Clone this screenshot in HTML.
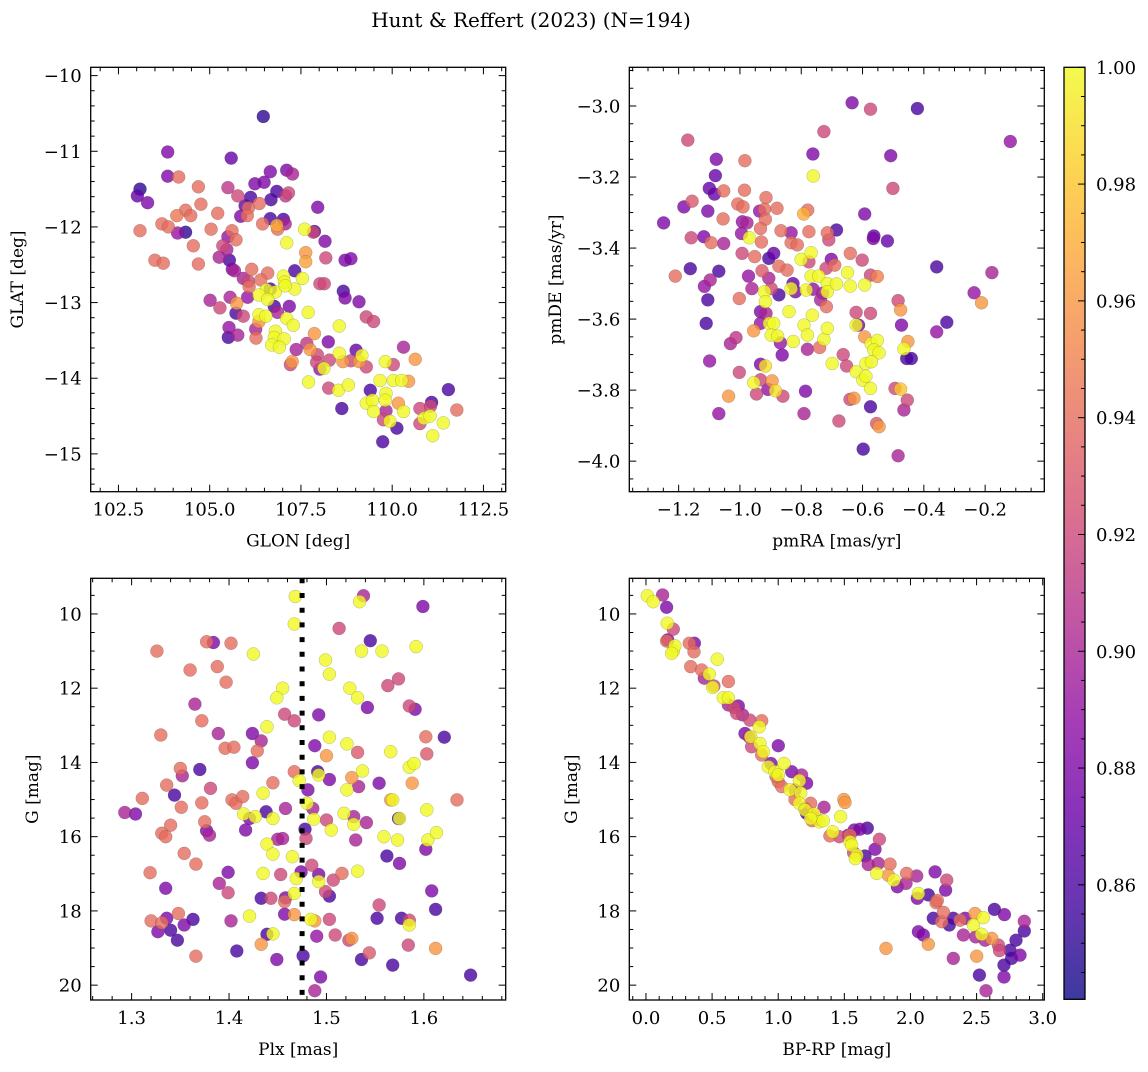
<!DOCTYPE html>
<html><head><meta charset="utf-8"><style>
html,body{margin:0;padding:0;background:#fff;}
svg text{font-family:"DejaVu Serif","Liberation Serif",serif;fill:#000;}
</style></head><body>
<svg id="fig" xmlns="http://www.w3.org/2000/svg" width="1148" height="1067" viewBox="0 0 1148 1067">
<rect width="1148" height="1067" fill="#fff"/>
<text x="531" y="27" font-size="20" text-anchor="middle">Hunt &amp; Reffert (2023) (N=194)</text>
</svg>
<script>
const probMin = 0.8404, probMax = 1.0;
const plxMedian = 1.475;

const p1Glon = [106.47,103.85,105.59,103.09,103.02,103.30,103.85,104.15,104.69,104.76,
103.09,103.69,103.87,104.10,104.34,104.48,104.12,104.34,105.22,105.04,
104.55,103.50,103.73,104.69,105.50,105.77,106.12,105.97,106.24,106.49,
106.66,107.11,107.27,106.84,106.68,107.08,107.16,106.36,106.06,105.85,
106.03,106.45,106.66,107.02,107.07,106.86,106.84,107.96,107.60,107.87,
107.84,108.16,107.11,105.61,105.72,105.50,105.36,105.47,105.26,105.54,
105.62,105.68,106.15,106.59,106.40,106.06,106.08,107.33,107.63,107.63,
107.02,107.05,107.54,107.33,106.66,106.55,106.80,106.35,106.59,106.04,
105.56,105.01,105.28,105.74,105.72,105.92,106.77,107.18,106.35,106.54,
106.86,107.11,107.29,107.70,106.35,105.53,105.51,105.77,106.26,106.27,
106.80,106.77,107.04,106.70,106.91,108.55,107.87,107.37,107.66,108.25,
107.75,107.95,107.26,107.21,107.93,108.02,108.13,108.28,108.55,108.65,
109.01,109.17,109.10,109.29,108.87,107.71,108.26,108.53,108.80,108.62,
109.40,109.29,109.46,109.49,109.67,109.81,110.03,109.83,109.81,109.83,
109.76,109.94,109.74,110.13,110.03,110.26,110.45,110.31,110.63,110.17,
110.31,110.76,111.08,111.05,110.76,110.87,111.04,111.11,111.40,111.54,
111.77,105.92,108.18,108.71,108.87,108.66,108.71,109.09,109.29,109.49,
108.02,108.14,107.07];
const p1Glat = [-10.54,-11.01,-11.09,-11.50,-11.59,-11.68,-11.33,-11.34,-11.47,-11.70,
-12.05,-11.96,-12.00,-11.85,-11.78,-11.85,-12.08,-12.07,-11.82,-12.03,
-12.25,-12.44,-12.48,-12.49,-11.48,-11.59,-11.61,-11.72,-11.43,-11.41,
-11.27,-11.25,-11.30,-11.53,-11.64,-11.59,-11.55,-11.69,-11.75,-11.86,
-11.85,-11.96,-11.89,-11.90,-11.96,-12.03,-11.98,-11.74,-12.03,-12.06,
-12.07,-12.19,-12.21,-12.05,-12.17,-12.13,-12.25,-12.30,-12.40,-12.44,
-12.56,-12.58,-12.56,-12.61,-12.70,-12.72,-12.79,-12.58,-12.34,-12.46,
-12.65,-12.73,-12.68,-12.82,-12.82,-12.83,-12.86,-12.90,-12.96,-12.93,
-12.93,-12.97,-13.07,-13.01,-13.14,-13.18,-13.05,-13.05,-13.16,-13.18,
-13.13,-13.21,-13.30,-13.13,-13.25,-13.33,-13.46,-13.43,-13.35,-13.47,
-13.38,-13.46,-13.48,-13.56,-13.59,-13.31,-13.41,-13.62,-13.54,-13.52,
-13.62,-13.69,-13.78,-13.82,-13.79,-13.88,-13.87,-13.76,-13.67,-13.78,
-13.63,-13.70,-13.78,-13.85,-13.77,-14.05,-14.13,-14.16,-14.09,-14.40,
-14.16,-14.33,-14.29,-14.44,-14.03,-13.78,-13.82,-14.20,-14.29,-14.43,
-14.55,-14.57,-14.84,-14.66,-14.03,-14.03,-14.04,-13.59,-13.75,-14.33,
-14.44,-14.40,-14.32,-14.37,-14.60,-14.53,-14.50,-14.76,-14.59,-14.15,
-14.42,-12.68,-12.41,-12.44,-12.42,-12.85,-12.94,-12.99,-13.19,-13.25,
-12.75,-12.75,-12.78];
const p1Prob = [.85,.88,.87,.85,.87,.88,.88,.94,.94,.94,
.94,.94,.94,.945,.94,.94,.89,.85,.94,.94,
.94,.94,.94,.94,.91,.92,.86,.87,.88,.88,
.88,.88,.90,.86,.86,.91,.92,.94,.94,.88,
.94,.94,.86,.86,.90,.94,.97,.88,1,.86,
.92,.88,1,.94,.94,.89,.92,.90,.90,.86,
.88,.90,.94,.94,.94,.92,.94,.86,.96,.965,
1,1,1,1,.86,1,1,1,1,.89,
.90,.90,.92,.96,.86,.92,.86,.88,1,1,
.90,1,1,1,.96,.89,.86,.90,.90,.94,
1,1,1,1,1,1,.96,.90,.91,.88,
.96,.92,.96,.92,.92,.89,1,.92,1,.96,
.87,1,.96,.92,.92,1,.92,1,1,.86,
.86,1,1,1,1,1,.92,1,1,.90,
.92,1,.86,.86,1,1,.96,.90,.96,.96,
1,.92,.86,.92,.92,1,1,1,1,.86,
.94,.90,.92,.88,.88,.86,.88,.88,.92,.92,
.92,.92,1];

const p2PmRA = [-1.249,-1.170,-1.183,-1.156,-1.159,-1.162,-1.211,-1.077,-1.080,-1.100,
-1.083,-1.053,-1.105,-1.118,-1.094,-1.053,-1.055,-1.069,-1.097,-1.116,
-1.105,-1.110,-1.099,-1.069,-1.037,-1.031,-1.013,-1.002,-1.007,-0.985,
-0.984,-0.990,-0.992,-0.977,-0.995,-0.969,-0.993,-0.972,-1.002,-0.961,
-0.952,-0.936,-0.915,-0.920,-0.917,-0.879,-0.933,-0.930,-0.928,-0.906,
-0.890,-0.906,-0.898,-0.920,-0.917,-0.933,-0.915,-0.933,-0.904,-0.890,
-0.898,-0.877,-0.873,-0.866,-0.873,-0.846,-0.833,-0.833,-0.813,-0.827,
-0.819,-0.833,-0.840,-0.868,-0.862,-0.826,-0.955,-0.933,-0.917,-0.955,
-0.933,-0.946,-0.909,-0.895,-0.884,-0.860,-0.786,-0.791,-0.780,-0.740,
-0.764,-0.791,-0.780,-0.800,-0.775,-0.768,-0.784,-0.768,-0.761,-0.743,
-0.792,-0.779,-0.775,-0.762,-0.761,-0.726,-0.715,-0.710,-0.685,-0.702,
-0.719,-0.691,-0.737,-0.730,-0.718,-0.715,-0.715,-0.685,-0.726,-0.715,
-0.699,-0.663,-0.652,-0.677,-0.641,-0.628,-0.634,-0.574,-0.640,-0.649,
-0.640,-0.601,-0.593,-0.563,-0.565,-0.519,-0.508,-0.501,-0.421,-0.574,
-0.552,-0.593,-0.621,-0.613,-0.621,-0.593,-0.574,-0.572,-0.552,-0.563,
-0.546,-0.589,-0.571,-0.621,-0.599,-0.589,-0.574,-0.574,-0.554,-0.546,
-0.598,-0.484,-0.484,-0.476,-0.473,-0.465,-0.452,-0.456,-0.441,-0.494,
-0.476,-0.454,-0.465,-0.358,-0.325,-0.358,-0.236,-0.212,-0.178,-0.118];
const p2PmDE = [-3.329,-3.096,-3.284,-3.268,-3.371,-3.458,-3.479,-3.150,-3.196,-3.232,
-3.248,-3.239,-3.296,-3.368,-3.385,-3.387,-3.318,-3.465,-3.490,-3.508,
-3.546,-3.612,-3.718,-3.866,-3.817,-3.669,-3.652,-3.750,-3.276,-3.237,
-3.154,-3.284,-3.326,-3.329,-3.359,-3.371,-3.415,-3.479,-3.542,-3.514,
-3.424,-3.296,-3.258,-3.291,-3.319,-3.288,-3.345,-3.383,-3.464,-3.429,
-3.415,-3.485,-3.514,-3.523,-3.551,-3.579,-3.584,-3.612,-3.612,-3.612,
-3.645,-3.648,-3.532,-3.351,-3.451,-3.462,-3.357,-3.385,-3.391,-3.500,
-3.523,-3.514,-3.579,-3.667,-3.701,-3.663,-3.633,-3.727,-3.732,-3.779,
-3.771,-3.811,-3.798,-3.774,-3.802,-3.817,-3.803,-3.866,-3.685,-3.680,
-3.589,-3.617,-3.645,-3.432,-3.439,-3.413,-3.518,-3.479,-3.516,-3.479,
-3.304,-3.293,-3.354,-3.135,-3.197,-3.072,-3.357,-3.377,-3.349,-3.432,
-3.457,-3.448,-3.546,-3.527,-3.565,-3.500,-3.523,-3.501,-3.657,-3.626,
-3.725,-3.700,-3.732,-3.887,-3.826,-3.823,-2.991,-3.009,-3.415,-3.469,
-3.507,-3.434,-3.304,-3.366,-3.373,-3.380,-3.140,-3.232,-3.007,-3.476,
-3.480,-3.504,-3.581,-3.617,-3.617,-3.650,-3.584,-3.669,-3.660,-3.687,
-3.695,-3.725,-3.720,-3.748,-3.772,-3.761,-3.795,-3.847,-3.894,-3.903,
-3.966,-3.985,-3.548,-3.574,-3.617,-3.684,-3.663,-3.711,-3.711,-3.795,
-3.797,-3.828,-3.856,-3.453,-3.609,-3.636,-3.526,-3.554,-3.469,-3.100];
const p2Prob = [.88,.92,.88,.93,.92,.86,.94,.88,.87,.87,
.87,.94,.88,.88,.94,.90,.94,.86,.90,.89,
.86,.86,.89,.89,.96,.90,.91,.92,.94,.94,
.94,.94,.89,.90,.89,1,.92,.89,.94,.90,
.94,.89,.94,.94,.94,.94,.94,.94,.93,.86,
.87,.90,.92,1,1,.88,.90,.89,1,1,
1,1,.86,.94,.94,.94,.89,.94,.94,.87,
.88,1,1,.89,.88,1,.96,.88,.99,1,
.92,.92,.89,.96,.99,.92,.88,.90,.90,.94,
1,1,1,1,.92,1,1,1,.89,1,
.97,.94,.94,.88,1,.92,.94,.92,.86,.88,
.92,.94,.90,.90,.94,1,1,1,1,1,
1,.92,.92,.92,.92,.96,.88,.92,.94,1,
1,.92,.88,.87,.88,.87,.88,.92,.86,.92,
.95,1,.92,.88,1,.96,.92,1,1,1,
1,1,1,1,1,1,1,.86,.93,.96,
.86,.90,.92,.96,.88,1,.96,.86,.86,.92,
.98,.92,.90,.86,.86,.89,.89,.96,.90,.89];

const p3Plx = [1.468,1.467,1.538,1.534,1.599,1.513,1.545,1.536,1.557,1.592,
1.499,1.503,1.377,1.384,1.402,1.326,1.425,1.360,1.388,1.397,
1.455,1.449,1.524,1.532,1.542,1.563,1.574,1.585,1.591,1.365,
1.372,1.457,1.467,1.492,1.439,1.330,1.389,1.424,1.433,1.396,
1.405,1.429,1.424,1.488,1.503,1.500,1.521,1.532,1.566,1.602,
1.621,1.603,1.585,1.590,1.588,1.537,1.526,1.521,1.533,1.554,
1.491,1.492,1.503,1.467,1.472,1.481,1.445,1.435,1.370,1.350,
1.352,1.336,1.381,1.311,1.293,1.304,1.344,1.351,1.372,1.375,
1.377,1.380,1.340,1.331,1.335,1.354,1.366,1.319,1.335,1.403,
1.407,1.414,1.415,1.421,1.427,1.417,1.438,1.445,1.458,1.450,
1.455,1.439,1.445,1.465,1.478,1.479,1.480,1.486,1.487,1.500,
1.505,1.518,1.528,1.528,1.530,1.541,1.566,1.568,1.574,1.575,
1.559,1.573,1.562,1.575,1.603,1.604,1.613,1.602,1.634,1.399,
1.390,1.399,1.435,1.453,1.469,1.474,1.485,1.492,1.492,1.507,
1.516,1.532,1.499,1.503,1.433,1.443,1.458,1.457,1.467,1.421,
1.457,1.467,1.484,1.488,1.503,1.402,1.439,1.445,1.433,1.408,
1.449,1.490,1.509,1.523,1.526,1.544,1.536,1.476,1.494,1.488,
1.554,1.552,1.577,1.585,1.585,1.584,1.612,1.608,1.612,1.568,
1.648,1.320,1.331,1.336,1.348,1.363,1.327,1.340,1.354,1.347,
1.366];
const p3G = [9.53,10.27,9.51,9.67,9.80,10.39,10.72,11.00,11.00,10.88,
11.24,11.62,10.75,10.77,10.79,11.00,11.08,11.51,11.42,11.84,
12.00,12.26,12.00,12.26,12.52,11.93,11.75,12.48,12.57,12.43,
12.88,12.70,12.88,12.72,13.04,13.26,13.22,13.22,13.42,13.62,
13.59,13.69,14.01,13.55,13.32,13.82,13.50,13.73,13.71,13.31,
13.32,13.77,14.13,14.03,14.56,14.23,14.41,14.74,14.65,14.56,
14.25,14.34,14.46,14.25,14.49,14.74,14.55,14.83,14.19,14.16,
14.36,14.61,14.70,14.97,15.35,15.39,14.88,15.21,15.09,15.60,
15.84,15.96,15.69,15.91,16.00,16.45,16.74,16.97,17.39,15.01,
15.10,14.92,15.39,15.51,15.46,15.82,15.33,15.51,15.24,16.07,
16.05,16.20,16.47,16.54,15.80,16.05,15.10,15.24,15.53,15.55,
15.82,15.37,15.46,15.67,16.09,15.62,15.01,15.01,15.51,15.51,
16.00,16.09,16.52,16.72,15.28,16.09,15.89,16.34,15.01,16.96,
17.26,17.51,16.99,17.02,17.13,16.95,16.77,17.02,17.21,17.17,
16.99,16.93,17.48,17.60,17.66,17.66,17.65,17.75,17.53,18.14,
18.09,18.10,18.23,18.27,18.23,18.27,18.63,18.62,18.90,19.08,
19.31,18.68,18.65,18.79,18.74,19.13,19.31,19.21,19.78,20.15,
17.84,18.20,18.20,18.25,18.38,18.92,19.01,17.46,17.96,19.46,
19.73,18.27,18.32,18.20,18.07,18.23,18.56,18.52,18.38,18.79,
19.22];
const p3Prob = [1,1,.90,1,.88,.92,.86,1,1,1,
1,1,.94,.88,.94,.94,1,.94,.94,.94,
1,1,1,1,.88,.92,.92,.92,.88,.90,
.94,.92,.92,.88,1,.94,.90,.88,.90,.94,
.94,.94,.88,.88,1,.96,1,.93,1,.94,
.86,.93,1,1,.96,1,.96,1,.90,.88,
.86,1,.88,.94,1,.88,.94,1,.86,.94,
.90,.94,.92,.94,.90,.88,.86,.94,.94,.94,
.88,.90,.94,.94,.94,.94,.94,.94,.88,.94,
.94,.94,1,.88,1,.88,.86,1,.90,.90,
.90,1,1,1,.86,.92,1,.90,1,.92,
1,1,.90,1,.90,.90,.96,1,.86,1,
1,1,.86,.88,1,1,1,.88,.94,.88,
.90,.92,1,.92,1,.88,.92,.88,1,.92,
.94,1,.92,.86,.86,.92,.88,.94,1,1,
.88,.96,1,.96,.92,.90,.86,1,.96,.86,
.88,.89,.92,.92,.96,.93,.86,.86,.88,.90,
.92,.86,.86,.92,1,.92,.96,.88,.86,.86,
.86,.94,.94,.88,.94,.86,.88,.86,.88,.86,
.94];

const p4BpRp = [0.010,0.055,0.126,0.156,0.161,0.207,0.156,0.164,0.207,0.219,
0.194,0.328,0.366,0.363,0.338,0.421,0.539,0.479,0.441,0.623,
0.514,0.504,0.585,0.623,0.623,0.666,0.698,0.686,0.731,0.786,
0.875,0.857,0.749,0.781,0.792,0.799,0.862,0.887,1.001,0.875,
0.945,0.925,0.976,1.001,1.044,1.001,1.026,1.102,1.089,1.177,
1.215,1.160,1.170,1.127,1.160,1.203,1.215,1.203,1.245,1.261,
1.271,1.291,1.311,1.346,1.341,1.245,1.391,1.412,1.472,1.497,
1.505,1.462,1.530,1.543,1.555,1.570,1.595,1.583,1.575,1.618,
1.674,1.656,1.681,1.732,1.765,1.757,1.745,1.845,1.833,1.875,
1.901,1.966,1.971,2.047,2.052,2.060,2.135,2.193,2.186,2.274,
2.266,2.173,2.236,2.294,2.324,2.375,2.413,2.060,2.097,2.135,
1.815,2.324,2.400,2.488,2.476,2.551,2.538,2.493,2.564,2.501,
2.521,2.571,2.614,2.665,2.635,2.710,2.753,2.765,2.707,2.707,
2.798,2.828,2.861,2.861,2.673,2.203,2.249,0.983,1.127,1.256,
1.543];
const p4G = [9.51,9.67,9.49,9.82,10.25,10.41,10.73,10.70,11.00,10.86,
11.06,10.79,10.79,11.02,11.42,11.51,11.22,11.62,11.73,11.82,
11.94,11.98,12.26,12.26,12.45,12.52,12.48,12.68,12.72,12.86,
12.88,13.04,13.22,13.31,13.31,13.58,13.49,13.71,13.55,13.80,
14.03,14.12,14.25,14.34,14.03,14.52,14.65,14.25,14.74,14.34,
14.56,14.49,14.82,15.00,15.10,15.24,15.37,15.28,15.10,15.42,
15.39,15.53,15.60,15.21,15.57,15.51,15.98,15.87,15.46,15.00,
15.08,16.00,15.96,16.14,16.23,16.43,16.50,16.59,15.82,15.80,
15.77,16.52,16.75,16.34,16.07,16.72,16.99,16.74,17.04,17.17,
17.35,17.26,16.99,17.06,17.66,17.53,17.57,17.78,16.95,17.17,
17.44,18.20,18.29,18.38,18.20,18.25,18.20,18.56,18.65,18.90,
19.01,19.28,18.65,18.07,18.38,18.18,18.63,18.70,18.79,19.22,
19.73,20.15,18.74,18.92,17.96,18.10,19.06,19.28,19.46,19.78,
18.79,19.19,18.54,18.28,19.07,17.72,18.04,14.38,14.74,15.57,
15.96];
const p4Prob = [1,1,.90,.88,1,.92,.94,.88,1,1,
1,.94,.88,.94,.94,.94,1,1,.90,.94,
.92,1,1,1,.90,.92,.88,.92,.90,.92,
.94,1,.88,.90,1,.92,1,1,.88,.94,
.88,1,1,1,1,.94,.94,.88,1,.90,
.88,1,1,.94,1,.88,.86,1,.94,.94,
1,.94,1,.90,1,1,.94,1,1,.96,
.96,.92,.88,1,1,.92,1,1,.88,.88,
.86,.86,.90,.88,.92,.90,1,.94,.96,1,
.88,.90,.94,.90,.88,1,.86,.94,.88,.92,
.88,.86,.94,.86,.86,.94,.88,.88,.88,.96,
.96,.90,.90,.96,1,1,1,.90,.90,.96,
.86,.90,.96,.92,.86,.88,.86,.86,.86,.88,
.86,.88,.86,.90,.92,.94,.94,.94,.90,.94,
.94];

const cbTicks = [0.86,0.88,0.90,0.92,0.94,0.96,0.98,1.00];

const NS = "http://www.w3.org/2000/svg";
const svg = document.getElementById('fig');
const plasma = ["#0d0887","#41049d","#6a00a8","#8f0da4","#b12a90","#cc4778","#e16462","#f2844b","#fca636","#fcce25","#f0f921"];
function hex(h){return [parseInt(h.substr(1,2),16),parseInt(h.substr(3,2),16),parseInt(h.substr(5,2),16)];}
function cmap(p){
  let t=(p-probMin)/(probMax-probMin); t=Math.max(0,Math.min(1,t));
  const f=t*10, i=Math.min(9,Math.floor(f)), u=f-i;
  const a=hex(plasma[i]), b=hex(plasma[i+1]);
  return 'rgb('+a.map((v,k)=>Math.round(v+(b[k]-v)*u)).join(',')+')';
}
function el(tag, attrs, parent){
  const e=document.createElementNS(NS,tag);
  for(const k in attrs) e.setAttribute(k,attrs[k]);
  (parent||svg).appendChild(e); return e;
}
function fmt(v,dec){ const s=Math.abs(v).toFixed(dec); return (v<-1e-9?'−':'')+s; }

function panel(c){
  const g=el('g',{});
  
  
  const sx=v=>c.x0+(v-c.dx[0])/(c.dx[1]-c.dx[0])*(c.x1-c.x0);
  const sy=c.invert ? (v=>c.y0+(v-c.dy[0])/(c.dy[1]-c.dy[0])*(c.y1-c.y0))
                    : (v=>c.y1-(v-c.dy[0])/(c.dy[1]-c.dy[0])*(c.y1-c.y0));
  const idx=c.xs.map((_,i)=>i).sort((a,b)=>c.ps[a]-c.ps[b]);
  const pg=el('g',{},g);
  
  
  idx.forEach(i=>{
    const ci=el('circle',{cx:sx(c.xs[i]).toFixed(1),cy:sy(c.ys[i]).toFixed(1),r:6.5,fill:cmap(c.ps[i]),'fill-opacity':0.8,stroke:'rgba(60,60,60,0.35)','stroke-width':0.5},pg);
    
    
  });
  if(c.vline!==undefined){
    const ln=el('line',{x1:sx(c.vline),x2:sx(c.vline),y1:c.y0,y2:c.y1,stroke:'#000','stroke-width':5,'stroke-dasharray':'5,9.7'},g);
    
    
  }
  const fr=el('rect',{x:c.x0,y:c.y0,width:c.x1-c.x0,height:c.y1-c.y0,fill:'none',stroke:'#000','stroke-width':1.3},g);
  
  
  const tg=el('g',{stroke:'#000','stroke-width':1},g);
  function ticks(min,max,minor,major){
    const out=[]; const k0=Math.ceil(min/minor-1e-9), k1=Math.floor(max/minor+1e-9);
    for(let k=k0;k<=k1;k++){const v=k*minor; const r=v/major; out.push({v:v,major:Math.abs(r-Math.round(r))<1e-6});}
    return out;
  }
  ticks(c.dx[0],c.dx[1],c.xMinor,c.xMajor).forEach(t=>{
    const x=sx(t.v), L=t.major?7:4;
    el('line',{x1:x,x2:x,y1:c.y1,y2:c.y1-L},tg);
    el('line',{x1:x,x2:x,y1:c.y0,y2:c.y0+L},tg);
    if(t.major){
      const tx=el('text',{x:x,y:c.y1+24,'font-size':18,'text-anchor':'middle'},g);
      tx.textContent=fmt(t.v,c.xDec);
      
      
    }
  });
  ticks(c.dy[0],c.dy[1],c.yMinor,c.yMajor).forEach(t=>{
    const y=sy(t.v), L=t.major?7:4;
    el('line',{x1:c.x0,x2:c.x0+L,y1:y,y2:y},tg);
    el('line',{x1:c.x1,x2:c.x1-L,y1:y,y2:y},tg);
    if(t.major){
      const tx=el('text',{x:c.x0-9,y:y+6.5,'font-size':18,'text-anchor':'end'},g);
      tx.textContent=fmt(t.v,c.yDec);
      
      
    }
  });
  const xt=el('text',{x:(c.x0+c.x1)/2,y:c.y1+55,'font-size':17,'text-anchor':'middle'},g);
  xt.textContent=c.xTitle;
  
  
  const yc=(c.y0+c.y1)/2;
  const yt=el('text',{x:c.yTitleX,y:yc,'font-size':17,'text-anchor':'middle',transform:'rotate(-90 '+c.yTitleX+' '+yc+')'},g);
  yt.textContent=c.yTitle;
  
  
}

panel({name:'glon-glat-panel',x0:90.7,x1:505.7,y0:67.3,y1:491.7,dx:[101.74,113.11],dy:[-15.5,-9.89],
  xs:p1Glon,ys:p1Glat,ps:p1Prob,xMajor:2.5,xMinor:0.5,xDec:1,yMajor:1,yMinor:0.2,yDec:0,
  xTitle:'GLON [deg]',yTitle:'GLAT [deg]',yTitleX:23});
panel({name:'proper-motion-panel',x0:629.3,x1:1044.3,y0:67.3,y1:491.7,dx:[-1.361,-0.007],dy:[-4.086,-2.891],
  xs:p2PmRA,ys:p2PmDE,ps:p2Prob,xMajor:0.2,xMinor:0.05,xDec:1,yMajor:0.2,yMinor:0.05,yDec:1,
  xTitle:'pmRA [mas/yr]',yTitle:'pmDE [mas/yr]',yTitleX:561});
panel({name:'plx-g-panel',x0:90.7,x1:505.7,y0:578.3,y1:1000,dx:[1.258,1.684],dy:[9.04,20.40],invert:true,
  xs:p3Plx,ys:p3G,ps:p3Prob,xMajor:0.1,xMinor:0.02,xDec:1,yMajor:2,yMinor:0.5,yDec:0,vline:plxMedian,
  xTitle:'Plx [mas]',yTitle:'G [mag]',yTitleX:38});
panel({name:'cmd-panel',x0:629.3,x1:1044.3,y0:578.3,y1:1000,dx:[-0.126,3.012],dy:[9.04,20.40],invert:true,
  xs:p4BpRp,ys:p4G,ps:p4Prob,xMajor:0.5,xMinor:0.1,xDec:1,yMajor:2,yMinor:0.5,yDec:0,
  xTitle:'BP-RP [mag]',yTitle:'G [mag]',yTitleX:577});

(function(){
  const cx0=1064,cx1=1085,cy0=67.3,cy1=999.3;
  const defs=el('defs',{});
  const lg=el('linearGradient',{id:'plasmaGrad',x1:0,y1:1,x2:0,y2:0},defs);
  plasma.forEach((c,i)=>el('stop',{offset:(i/10),'stop-color':c},lg));
  const g=el('g',{});
  
  
  el('rect',{x:cx0,y:cy0,width:cx1-cx0,height:cy1-cy0,fill:'url(#plasmaGrad)','fill-opacity':0.8},g);
  el('rect',{x:cx0,y:cy0,width:cx1-cx0,height:cy1-cy0,fill:'none',stroke:'#000','stroke-width':1.3},g);
  const sy=v=>cy1-(v-probMin)/(probMax-probMin)*(cy1-cy0);
  for(let k=Math.ceil(probMin/0.005);k<=200;k++){
    const v=k*0.005, y=sy(v), major=(k%4===0);
    el('line',{x1:cx1,x2:cx1-(major?7:4),y1:y,y2:y,stroke:'#000','stroke-width':1},g);
  }
  cbTicks.forEach(v=>{
    const t=el('text',{x:1096,y:sy(v)+6.5,'font-size':18},g);
    t.textContent=v.toFixed(2);
    
    
  });
})();
</script>
</body></html>
